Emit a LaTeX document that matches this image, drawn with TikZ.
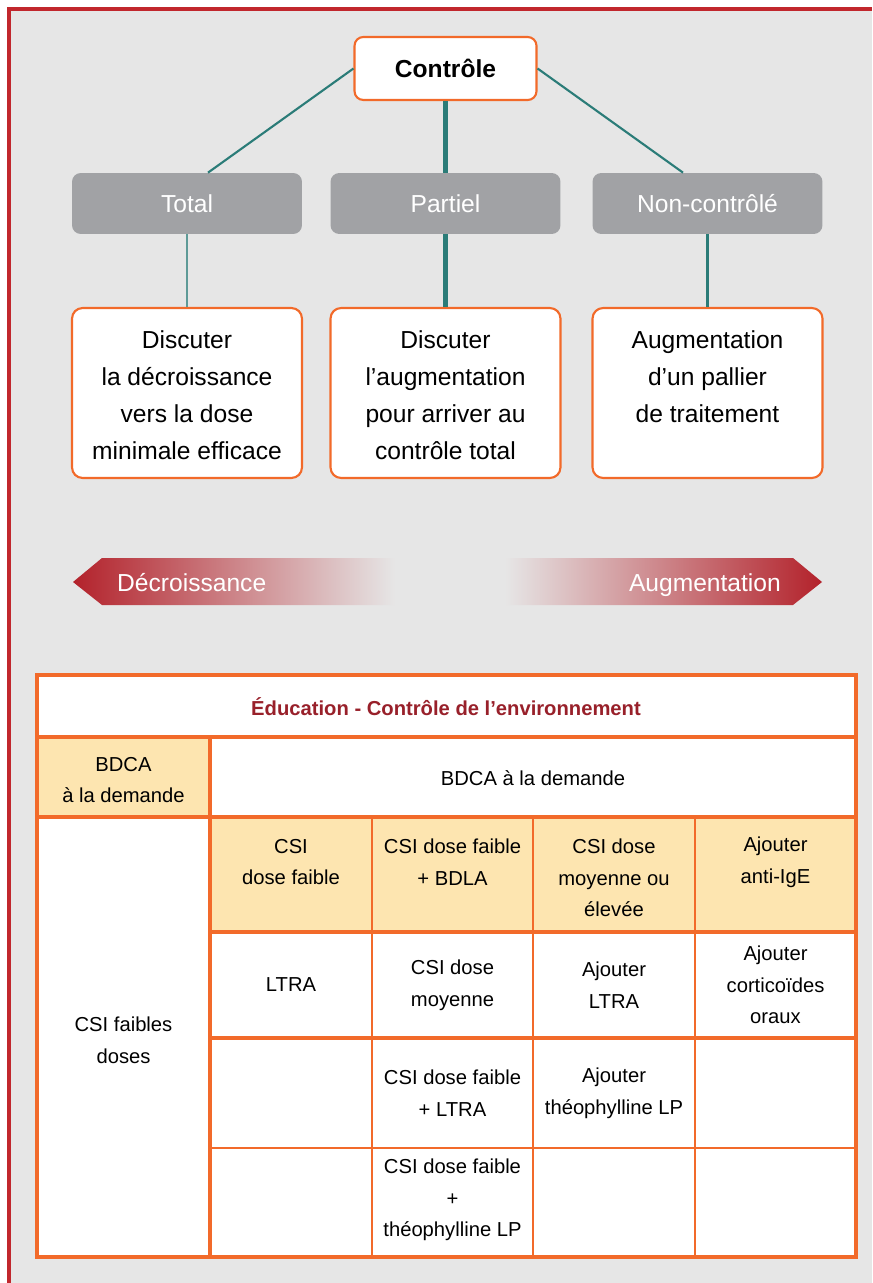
\documentclass[tikz,border=0pt]{standalone}
\usepackage{fontspec}
\setmainfont{Liberation Sans}
\usetikzlibrary{positioning}

\definecolor{bggray}{HTML}{E6E6E6}
\definecolor{framered}{HTML}{C1272D}
\definecolor{orng}{HTML}{F26A2A}
\definecolor{linkteal}{HTML}{2B7C78}
\definecolor{lightteal}{HTML}{5E9A97}
\definecolor{boxgray}{HTML}{A1A2A5}
\definecolor{cellyellow}{HTML}{FDE5B0}
\definecolor{arrowred}{HTML}{B3222B}
\definecolor{arrowmid}{HTML}{C98572}
\definecolor{titlered}{HTML}{98202A}

\begin{document}
\begin{tikzpicture}[x=0.02cm,y=-0.02cm,
  ctrlbox/.style={draw=orng,line width=1.2pt,fill=white,rounded corners=5pt,
    minimum width=3.64cm,minimum height=1.26cm,font=\fontsize{14}{21}\selectfont\bfseries},
  levelbox/.style={fill=boxgray,rounded corners=5pt,text=white,
    minimum width=4.6cm,minimum height=1.22cm,font=\fontsize{14}{21}\selectfont},
  actionbox/.style={draw=orng,line width=1.2pt,fill=white,rounded corners=6pt,
    minimum width=4.6cm,minimum height=3.4cm},
  actiontext/.style={align=center,font=\fontsize{14}{21}\selectfont},
  link/.style={draw=linkteal,line width=1.2pt},
  arrowtext/.style={text=white,font=\fontsize{14}{21}\selectfont},
  cell/.style={align=center,inner sep=0pt,font=\fontsize{11.5}{18}\selectfont},
  tabline/.style={draw=orng,line width=2.2pt},
  cellline/.style={draw=orng,line width=1.2pt}]

  \useasboundingbox (0,0) rectangle (872,1283);
  \fill[bggray] (9,9) rectangle (872,1283);
  \draw[framered,line width=1.8pt] (9,1283) -- (9,9) -- (872,9);

  % tree
  \node[ctrlbox] (ctrl) at (445.5,68.5) {Contrôle};
  \node[levelbox] (tot) at (187,203.5) {Total};
  \node[levelbox] (par) at (445.5,203.5) {Partiel};
  \node[levelbox] (non) at (707.5,203.5) {Non-contrôlé};

  \node[actionbox] (acttot) at (187,393) {};
  \node[actionbox] (actpar) at (445.5,393) {};
  \node[actionbox] (actnon) at (707.5,393) {};
  \node[actiontext] (txttot) at (187,395) {Discuter\\la décroissance\\vers la dose\\minimale efficace};
  \node[actiontext] (txtpar) at (445.5,395) {Discuter\\l'augmentation\\pour arriver au\\contrôle total};
  \node[actiontext] (txtnon) at (707.5,377) {Augmentation\\d'un pallier\\de traitement};

  \draw[link] (ctrl.west) -- ([xshift=0.42cm]tot.north);
  \draw[link,line width=2.6pt] (ctrl.south) -- (par.north);
  \draw[link] (ctrl.east) -- ([xshift=-0.49cm]non.north);
  \draw[link,draw=lightteal] (tot.south) -- (acttot.north);
  \draw[link,line width=2.6pt] (par.south) -- (actpar.north);
  \draw[link] (non.south) -- (actnon.north);

  % arrows
  \shade[left color=arrowred,middle color=arrowmid,right color=bggray]
    (73,582) -- (102,558) -- (395,558) -- (395,605) -- (102,605) -- cycle;
  \shade[left color=bggray,middle color=arrowmid,right color=arrowred]
    (505,558) -- (793,558) -- (822,582) -- (793,605) -- (505,605) -- cycle;
  \node[arrowtext,anchor=base west] (decr) at (111,591) {Décroissance};
  \node[arrowtext,anchor=base east] (augm) at (787,591) {Augmentation};

  % table
  \fill[white] (37,675) rectangle (856,1257);
  \fill[cellyellow] (37,737) rectangle (210,817);
  \fill[cellyellow] (210,817) rectangle (856,932);

  \draw[tabline] (37,675) rectangle (856,1257);
  \draw[tabline] (37,737) -- (856,737);
  \draw[tabline] (37,817) -- (856,817);
  \draw[tabline] (210,932) -- (856,932);
  \draw[tabline] (210,1038) -- (856,1038);
  \draw[cellline,line width=1.6pt] (210,1148) -- (856,1148);
  \draw[cellline,line width=1.8pt] (210,737) -- (210,1257);
  \foreach \x in {372,533,695}
    \draw[cellline] (\x,817) -- (\x,1257);

  \node[cell,text=titlered,font=\fontsize{11.5}{18}\selectfont\bfseries] (title) at (446,707)
    {Éducation - Contrôle de l'environnement};
  \node[cell] (bdcaleft) at (123.5,780) {BDCA\\à la demande};
  \node[cell] (bdcaall) at (533,778) {BDCA à la demande};
  \node[cell] (csilow) at (123.5,1040) {CSI faibles\\doses};

  \node[cell] (h1) at (291,862) {CSI\\dose faible};
  \node[cell] (h2) at (452.5,862) {CSI dose faible\\+ BDLA};
  \node[cell] (h3) at (614,878) {CSI dose\\moyenne ou\\élevée};
  \node[cell] (h4) at (775.5,862) {Ajouter\\anti-IgE};

  \node[cell] (r1c1) at (291,985) {LTRA};
  \node[cell] (r1c2) at (452.5,985) {CSI dose\\moyenne};
  \node[cell] (r1c3) at (614,985) {Ajouter\\LTRA};
  \node[cell] (r1c4) at (775.5,985) {Ajouter\\corticoïdes\\oraux};

  \node[cell] (r2c2) at (452.5,1093) {CSI dose faible\\+ LTRA};
  \node[cell] (r2c3) at (614,1093) {Ajouter\\théophylline LP};

  \node[cell] (r3c2) at (452.5,1200) {CSI dose faible\\+\\théophylline LP};
 \end{tikzpicture}
\end{document}
